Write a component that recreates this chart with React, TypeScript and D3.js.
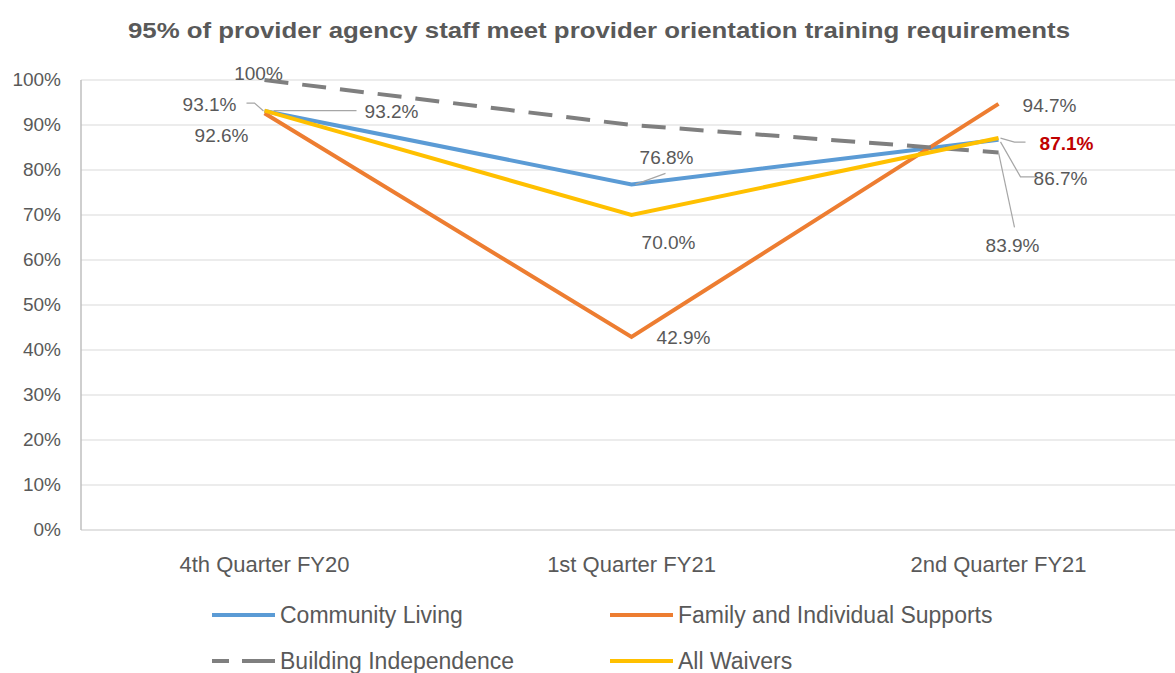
import React, { useEffect } from "react";
import * as d3 from "d3";

const categories = ["4th Quarter FY20", "1st Quarter FY21", "2nd Quarter FY21"];
const communityLiving = [93.1, 76.8, 86.7];
const familySupports = [92.6, 42.9, 94.7];
const buildingIndependence = [100, 90, 83.9];
const allWaivers = [93.2, 70.0, 87.1];
const yTicks = [0, 10, 20, 30, 40, 50, 60, 70, 80, 90, 100];

const W = 1175;
const H = 673;
const FONT = "'Liberation Sans', Arial, sans-serif";
const TEXT = "#595959";

// data label offsets from its point, plus optional leader line (relative coords)
type Lab = { dx: number; dy: number; show?: boolean; color?: string; bold?: boolean; leader?: [number, number][] };

const seriesList = [
  {
    name: "Community Living",
    values: communityLiving,
    color: "#5B9BD5",
    dash: null as string | null,
    labels: [
      { dx: -55, dy: 0, leader: [[-1, 0], [-10, -8], [-18, -8]] },
      { dx: 35, dy: -20, leader: [[4, 0], [34, -11]] },
      { dx: 62, dy: 45, leader: [[2, 2], [22, 37], [38, 37]] },
    ] as Lab[],
  },
  {
    name: "Family and Individual Supports",
    values: familySupports,
    color: "#ED7D31",
    dash: null,
    labels: [
      { dx: -43, dy: 29 },
      { dx: 52, dy: 7 },
      { dx: 51, dy: 8 },
    ] as Lab[],
  },
  {
    name: "Building Independence",
    values: buildingIndependence,
    color: "#7F7F7F",
    dash: "24,14",
    labels: [
      { dx: -6, dy: 0 },
      { dx: 0, dy: 0, show: false },
      { dx: 14, dy: 100, leader: [[0, 0], [16, 75]] },
    ] as Lab[],
  },
  {
    name: "All Waivers",
    values: allWaivers,
    color: "#FFC000",
    dash: null,
    labels: [
      { dx: 127, dy: 7, leader: [[9, 0], [92, 0]] },
      { dx: 37, dy: 34 },
      { dx: 68, dy: 12, color: "#C00000", bold: true, leader: [[2, 0], [16, 4], [27, 4]] },
    ] as Lab[],
  },
];

const App = () => {
  useEffect(() => {
    document.body.style.margin = "0";
  }, []);

  const x = d3.scalePoint<string>().domain(categories).range([81, 1182]).padding(0.5);
  const y = d3.scaleLinear().domain([0, 100]).range([530, 80]);
  const line = d3
    .line<number>()
    .x((_, i) => x(categories[i]) as number)
    .y((d) => y(d));

  return (
    <svg width={W} height={H} style={{ display: "block", background: "#fff" }} fontFamily={FONT}>
      <text
        x={599}
        y={38}
        textAnchor="middle"
        fontSize={22}
        fontWeight="bold"
        fill={TEXT}
        textLength={942}
        lengthAdjust="spacingAndGlyphs"
      >
        95% of provider agency staff meet provider orientation training requirements
      </text>

      {yTicks.map((t) => (
        <g key={t}>
          {t > 0 && <line x1={81} x2={W} y1={y(t)} y2={y(t)} stroke="#D9D9D9" strokeWidth={1} />}
          <text x={61} y={y(t) + 6} textAnchor="end" fontSize={19} fill={TEXT}>
            {t}%
          </text>
        </g>
      ))}
      <line x1={81} x2={W} y1={y(0)} y2={y(0)} stroke="#D9D9D9" strokeWidth={1.5} />
      <line x1={81} x2={81} y1={y(100)} y2={y(0)} stroke="#BFBFBF" strokeWidth={1.5} />

      {categories.map((c) => (
        <text key={c} x={x(c)} y={572} textAnchor="middle" fontSize={22} fill={TEXT}>
          {c}
        </text>
      ))}

      {seriesList.map((s) => (
        <path
          key={s.name}
          d={line(s.values) || ""}
          fill="none"
          stroke={s.color}
          strokeWidth={4}
          strokeDasharray={s.dash || undefined}
        />
      ))}

      {seriesList.map((s) =>
        s.values.map((v, i) => {
          const lab = s.labels[i];
          if (lab.show === false) return null;
          const px = x(categories[i]) as number;
          const py = y(v);
          const txt = v === 100 ? "100%" : `${v.toFixed(1)}%`;
          return (
            <g key={s.name + i}>
              {lab.leader && (
                <polyline
                  points={lab.leader.map(([a, b]) => `${px + a},${py + b}`).join(" ")}
                  fill="none"
                  stroke="#A6A6A6"
                  strokeWidth={1.2}
                />
              )}
              <text
                x={px + lab.dx}
                y={py + lab.dy}
                textAnchor="middle"
                fontSize={19}
                fontWeight={lab.bold ? "bold" : "normal"}
                fill={lab.color || TEXT}
              >
                {txt}
              </text>
            </g>
          );
        })
      )}

      {seriesList.map((s, i) => {
        const lx = i % 2 === 0 ? 212 : 610;
        const ly = i < 2 ? 615 : 661;
        return (
          <g key={"lg" + s.name}>
            <line
              x1={lx}
              x2={lx + 63}
              y1={ly}
              y2={ly}
              stroke={s.color}
              strokeWidth={4}
              strokeDasharray={s.dash ? "17,13,33" : undefined}
            />
            <text x={lx + 68} y={ly + 8} fontSize={23} fill={TEXT}>
              {s.name}
            </text>
          </g>
        );
      })}
    </svg>
  );
};

export default App;
